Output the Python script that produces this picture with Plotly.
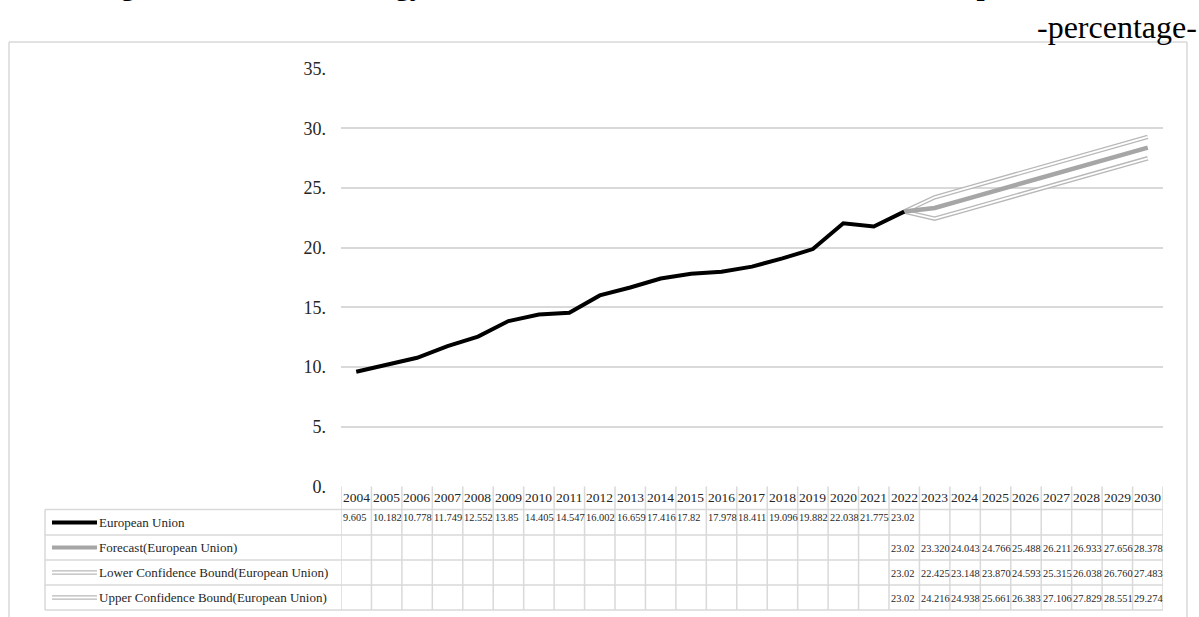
import plotly.graph_objects as go

W, H = 1199, 617

# ---------------- data ----------------
years = list(range(2004, 2031))
eu_years = list(range(2004, 2023))
eu_values = [9.605, 10.182, 10.778, 11.749, 12.552, 13.85, 14.405, 14.547, 16.002,
             16.659, 17.416, 17.82, 17.978, 18.411, 19.096, 19.882, 22.038, 21.775, 23.02]
fc_years = list(range(2022, 2031))
forecast = [23.02, 23.320, 24.043, 24.766, 25.488, 26.211, 26.933, 27.656, 28.378]
lower = [23.02, 22.425, 23.148, 23.870, 24.593, 25.315, 26.038, 26.760, 27.483]
upper = [23.02, 24.216, 24.938, 25.661, 26.383, 27.106, 27.829, 28.551, 29.274]
y_ticks = [0, 5, 10, 15, 20, 25, 30, 35]
y_ticktext = ["0.", "5.", "10.", "15.", "20.", "25.", "30.", "35."]
series_names = ["European Union", "Forecast(European Union)",
                "Lower Confidence Bound(European Union)",
                "Upper Confidence Bound(European Union)"]
title_text = "Figure 13: Share of energy from renewable sources forecast in the European Union"
unit_text = "-percentage-"

# ---------------- helpers ----------------
def px(x):
    return x / W

def py(y):
    return 1 - y / H

FONT = "Liberation Serif"
GRID = "#d9d9d9"
TXT = "#262626"
BLACK = "#000000"
FC_COL = "#a6a6a6"
BD_COL = "#b8b8b8"

fig = go.Figure()

# confidence bounds: outlined look (gray wide + white core)
for vals in (lower, upper):
    fig.add_trace(go.Scatter(x=fc_years, y=vals, mode="lines",
                             line=dict(color=BD_COL, width=4.5), hoverinfo="skip"))
    fig.add_trace(go.Scatter(x=fc_years, y=vals, mode="lines",
                             line=dict(color="white", width=1.8), hoverinfo="skip"))
fig.add_trace(go.Scatter(x=fc_years, y=forecast, mode="lines",
                         line=dict(color=FC_COL, width=4.5), hoverinfo="skip"))
fig.add_trace(go.Scatter(x=eu_years, y=eu_values, mode="lines",
                         line=dict(color=BLACK, width=4), hoverinfo="skip"))

# ---------------- table geometry ----------------
tbl_left = 341
tbl_right = 1163
leg_left = 45
row_lines = [486.5, 509.5, 535, 560, 585, 610]
header_mid = 497.5
row_text_mid = [517.5, 548.5, 573.5, 598.5]
leg_mid = [522.5, 547.5, 572.5, 597.5]

shapes = []
def hline(x0, x1, y, color=GRID, width=1.5):
    shapes.append(dict(type="line", xref="paper", yref="paper",
                       x0=px(x0), x1=px(x1), y0=py(y), y1=py(y),
                       line=dict(color=color, width=width), layer="below"))

def vline(x, y0, y1, color=GRID, width=1.5):
    shapes.append(dict(type="line", xref="paper", yref="paper",
                       x0=px(x), x1=px(x), y0=py(y0), y1=py(y1),
                       line=dict(color=color, width=width), layer="below"))

# outer frame
hline(9, 1187, 42)
vline(9, 42, 640)
vline(1187, 42, 640)

# table horizontal lines
for y in row_lines[1:]:
    hline(leg_left, tbl_right, y)
# legend column left edge
vline(leg_left, row_lines[1], row_lines[-1])
# column lines (in data coords of x)
for i in range(len(years) + 1):
    xb = years[0] - 0.5 + i
    shapes.append(dict(type="line", xref="x", yref="paper",
                       x0=xb, x1=xb, y0=py(row_lines[0]), y1=py(row_lines[-1]),
                       line=dict(color=GRID, width=1.5), layer="below"))

# legend keys
key_x0, key_x1 = 52, 97
def key(y, color, width):
    shapes.append(dict(type="line", xref="paper", yref="paper",
                       x0=px(key_x0), x1=px(key_x1), y0=py(y), y1=py(y),
                       line=dict(color=color, width=width), layer="above"))
key(leg_mid[0], BLACK, 4)
key(leg_mid[1], FC_COL, 4)
key(leg_mid[2], BD_COL, 4.5)
key(leg_mid[2], "white", 1.8)
key(leg_mid[3], BD_COL, 4.5)
key(leg_mid[3], "white", 1.8)

annotations = []
def cell(yr, y, text, size):
    annotations.append(dict(x=yr - 0.5, xref="x", y=py(y), yref="paper",
                            text=text, showarrow=False, xanchor="left", yanchor="middle",
                            borderpad=0, xshift=0.5,
                            font=dict(family=FONT, size=size, color=TXT)))

for yr in years:
    cell(yr, header_mid, str(yr), 13.5)
for yr, v in zip(eu_years, eu_values):
    cell(yr, row_text_mid[0], f"{v:g}", 10.4)
for r, vals in enumerate((forecast, lower, upper)):
    for j, (yr, v) in enumerate(zip(fc_years, vals)):
        cell(yr, row_text_mid[r + 1], f"{v:g}" if j == 0 else f"{v:.3f}", 10.4)

for name, y in zip(series_names, leg_mid):
    annotations.append(dict(x=px(97), xref="paper", y=py(y), yref="paper",
                            text=name, showarrow=False, xanchor="left", yanchor="middle",
                            font=dict(family=FONT, size=13, color=TXT)))

# title (cut off at the top as in the reference) and unit
annotations.append(dict(x=px(93), xref="paper", y=py(3), yref="paper",
                        text="<b>" + title_text + "</b>", showarrow=False,
                        xanchor="left", yanchor="bottom",
                        font=dict(family=FONT, size=29, color=BLACK)))
annotations.append(dict(x=px(1199), xref="paper", y=py(27), yref="paper",
                        text=unit_text, showarrow=False, xanchor="right", yanchor="middle",
                        font=dict(family=FONT, size=32, color=BLACK)))

fig.update_layout(
    width=W, height=H,
    margin=dict(l=0, r=0, t=0, b=0),
    paper_bgcolor="white", plot_bgcolor="white",
    showlegend=False,
    xaxis=dict(domain=[px(tbl_left), px(tbl_right)], range=[2003.5, 2030.5],
               visible=False, fixedrange=True),
    yaxis=dict(domain=[py(486.5), py(68.5)], range=[0, 35],
               tickvals=y_ticks, ticktext=y_ticktext, ticks="",
               showgrid=True, gridcolor=GRID, gridwidth=2,
               zeroline=False, showline=False, automargin=False,
               ticklabelstandoff=14,
               tickfont=dict(family=FONT, size=18, color=TXT), fixedrange=True),
    shapes=shapes,
    annotations=annotations,
)

fig.write_html("out.html")
